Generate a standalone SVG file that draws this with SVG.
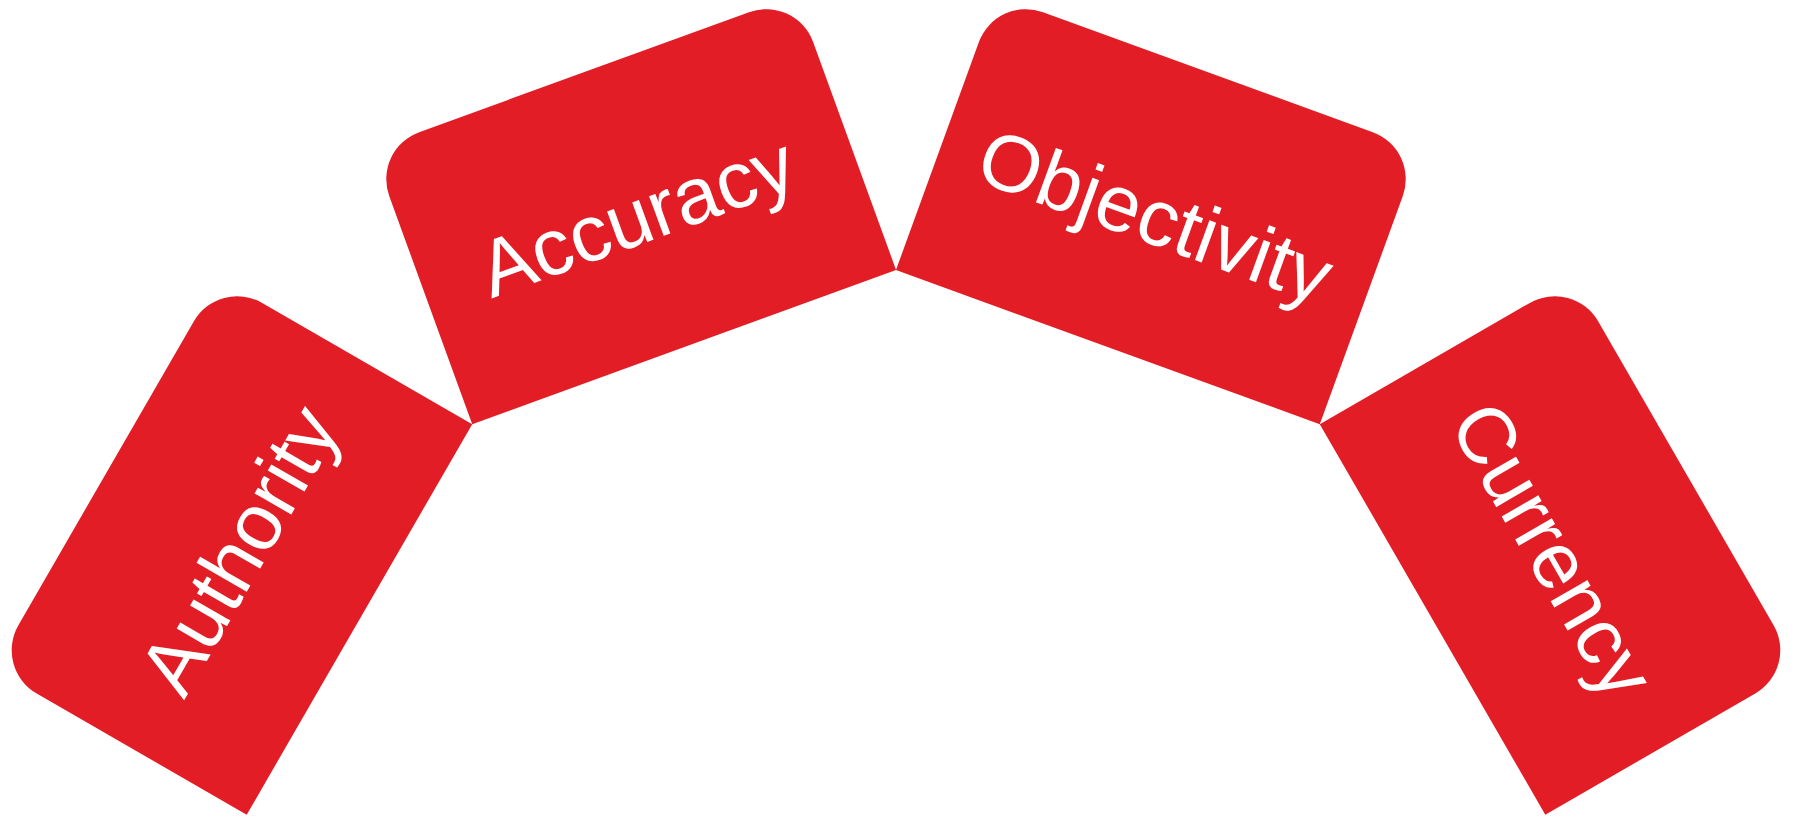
<svg xmlns="http://www.w3.org/2000/svg" xmlns:xlink="http://www.w3.org/1999/xlink" width="1793" height="819" viewBox="0 0 1793 819">
  <style>
    .card { fill: #E21D26; }
    .label { fill: #FFFFFF; font-family: "Liberation Sans", Arial, sans-serif; font-size: 80px; text-anchor: middle; }
  </style>
  <defs>
    <!-- one card: 451 x 292.5, rounded on the outer (top) edge only -->
    <path id="card" d="M0,292.5 L0,50 A50,50 0 0 1 50,0 L401,0 A50,50 0 0 1 451,50 L451,292.5 Z"/>
  </defs>

  <g id="authority" transform="translate(-6.6,668.5) rotate(-60)">
    <use xlink:href="#card" class="card"/>
    <text class="label" x="225.5" y="181">Authority</text>
  </g>

  <g id="accuracy" transform="translate(372.2,149.3) rotate(-20)">
    <use xlink:href="#card" class="card"/>
    <text class="label" x="225.5" y="181">Accuracy</text>
  </g>

  <g id="objectivity" transform="translate(996,-4.9) rotate(20)">
    <use xlink:href="#card" class="card"/>
    <text class="label" x="225.5" y="181">Objectivity</text>
  </g>

  <g id="currency" transform="translate(1573.1,277.9) rotate(60)">
    <use xlink:href="#card" class="card"/>
    <text class="label" x="225.5" y="181">Currency</text>
  </g>
</svg>
